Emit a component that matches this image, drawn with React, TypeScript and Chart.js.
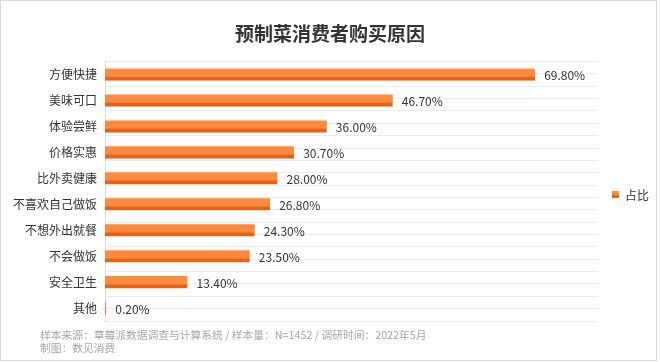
import React, { useEffect, useRef } from "react";
import { Chart, registerables } from "chart.js";

Chart.register(...registerables);

const categories = ["方便快捷", "美味可口", "体验尝鲜", "价格实惠", "比外卖健康", "不喜欢自己做饭", "不想外出就餐", "不会做饭", "安全卫生", "其他"];
const shareValues = [69.8, 46.7, 36.0, 30.7, 28.0, 26.8, 24.3, 23.5, 13.4, 0.2];
const seriesName = "占比";
const titleText = "预制菜消费者购买原因";
const sourceNote = "样本来源：草莓派数据调查与计算系统 / 样本量：N=1452 / 调研时间：2022年5月";
const makerNote = "制图：数见消费";

const FONT = "'Noto Sans CJK SC', 'Noto Sans', sans-serif";
const LIGHT = "#F98B42";
const DARK = "#EC6010";

const dataLabelPlugin = {
  id: "dataLabels",
  afterDatasetsDraw(chart: any) {
    const ctx = chart.ctx;
    const meta = chart.getDatasetMeta(0);
    ctx.save();
    ctx.font = `12px ${FONT}`;
    ctx.fillStyle = "#333333";
    ctx.textAlign = "left";
    ctx.textBaseline = "middle";
    meta.data.forEach((el: any, i: number) => {
      const v = chart.data.datasets[0].data[i];
      ctx.fillText(v.toFixed(2) + "%", el.x + 9, el.y + 1);
    });
    ctx.restore();
  },
};

export default function App() {
  const ref = useRef<HTMLCanvasElement | null>(null);
  useEffect(() => {
    if (!ref.current) return;
    const chart = new Chart(ref.current, {
      type: "bar",
      data: {
        labels: categories,
        datasets: [
          {
            label: seriesName,
            data: shareValues,
            backgroundColor: LIGHT,
            borderColor: DARK,
            borderWidth: { top: 0, right: 0, bottom: 4, left: 0 },
            borderSkipped: false,
            barThickness: 12,
          },
        ],
      },
      options: {
        indexAxis: "y",
        animation: false,
        responsive: false,
        maintainAspectRatio: false,
        layout: { padding: { left: 5, right: 62, top: 61.5, bottom: 41 } },
        scales: {
          x: { display: false, min: 0, max: 80 },
          y: {
            type: "category",
            grid: { display: false, drawTicks: false },
            border: { display: true, color: "#d9d9d9", width: 1 },
            ticks: { color: "#333333", font: { family: FONT, size: 12 }, padding: 8, autoSkip: false },
          },
          yGrid: {
            type: "linear",
            position: "right",
            min: -0.5,
            max: 9.5,
            reverse: true,
            ticks: { display: false, stepSize: 0.5, autoSkip: false },
            grid: { color: "#ebebeb", drawTicks: false, lineWidth: 1 },
            border: { display: false },
          },
        },
        plugins: {
          title: { display: false },
          legend: { display: false },
          tooltip: { enabled: false },
        },
      },
      plugins: [dataLabelPlugin],
    } as any);
    return () => chart.destroy();
  }, []);

  return (
    <div style={{ position: "absolute", left: 0, top: 0, width: 660, height: 362, background: "#fff" }}>
      <canvas ref={ref} width={660} height={362} style={{ position: "absolute", left: 0, top: 0, width: 660, height: 362 }} />
      <div
        style={{
          position: "absolute",
          left: 0,
          top: 21,
          width: 660,
          textAlign: "center",
          fontFamily: FONT,
          fontSize: 19,
          fontWeight: "bold",
          lineHeight: "23px",
          color: "#333333",
          whiteSpace: "pre",
        }}
      >
        {titleText}
      </div>
      <div
        style={{
          position: "absolute",
          left: 612,
          top: 186,
          height: 16,
          display: "flex",
          alignItems: "center",
          fontFamily: FONT,
          fontSize: 12,
          color: "#333333",
          whiteSpace: "pre",
        }}
      >
        <span
          style={{
            display: "inline-block",
            width: 7,
            height: 7,
            marginRight: 6,
            background: `linear-gradient(${LIGHT} 55%, ${DARK} 55%)`,
          }}
        />
        <span>{seriesName}</span>
      </div>
      <div
        style={{
          position: "absolute",
          left: 40,
          top: 328,
          fontFamily: FONT,
          fontSize: 10.75,
          lineHeight: "13px",
          color: "#a6a6a6",
          whiteSpace: "pre",
        }}
      >
        <div>{sourceNote}</div>
        <div>{makerNote}</div>
      </div>
      <div
        style={{
          position: "absolute",
          left: 0,
          top: 0,
          width: 657,
          height: 361,
          border: "1px solid #d9d9d9",
          boxSizing: "border-box",
          pointerEvents: "none",
        }}
      />
    </div>
  );
}
